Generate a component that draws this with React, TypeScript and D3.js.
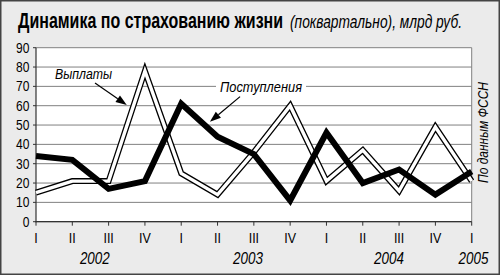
import React, { useLayoutEffect, useRef, useState } from "react";
import * as d3 from "d3";

const quarters = ["I", "II", "III", "IV", "I", "II", "III", "IV", "I", "II", "III", "IV", "I"];
const years = ["2002", "2003", "2004", "2005"];
const yearPos = [1.62, 5.84, 9.72, 12.05];
const payouts = [15, 21, 21, 78, 25, 14, 36, 60, 21, 37, 16, 49, 21];
const receipts = [34, 32, 17, 21, 61, 44, 35, 11, 46, 20, 27, 14, 26];
const yTicks = [0, 10, 20, 30, 40, 50, 60, 70, 80, 90];

const W = 500;
const H = 275;
const FONT = "'Liberation Sans', Arial, sans-serif";

type NProps = {
  x: number;
  y: number;
  size: number;
  sx?: number;
  width?: number;
  rotate?: number;
  anchor?: "start" | "middle" | "end";
  italic?: boolean;
  bold?: boolean;
  children: React.ReactNode;
};

function NText({ x, y, size, sx = 0.86, width, rotate = 0, anchor = "start", italic, bold, children }: NProps) {
  const ref = useRef<SVGTextElement>(null);
  const [scale, setScale] = useState(sx);
  useLayoutEffect(() => {
    if (width && ref.current) {
      const len = ref.current.getComputedTextLength();
      if (len > 0) setScale(width / len);
    }
  }, [width]);
  return (
    <text
      ref={ref}
      transform={`translate(${x},${y}) rotate(${rotate}) scale(${scale},1)`}
      fontSize={size}
      textAnchor={anchor}
      fontStyle={italic ? "italic" : "normal"}
      fontWeight={bold ? "bold" : "normal"}
      fill="#000"
    >
      {children}
    </text>
  );
}

export default function App() {
  const x = d3.scaleLinear().domain([0, 12]).range([36, 471.7]);
  const y = d3.scaleLinear().domain([0, 90]).range([221.7, 47.7]);
  const line = d3
    .line<number>()
    .x((_, i) => x(i))
    .y((d) => y(d))
    .curve(d3.curveLinear);

  const arrow = (x1: number, y1: number, x2: number, y2: number) => {
    const ang = Math.atan2(y2 - y1, x2 - x1);
    const len = 11;
    const hw = 4;
    const bx = x2 - len * Math.cos(ang);
    const by = y2 - len * Math.sin(ang);
    const px = -Math.sin(ang) * hw;
    const py = Math.cos(ang) * hw;
    return (
      <g>
        <line x1={x1} y1={y1} x2={bx} y2={by} stroke="#000" strokeWidth={1.2} />
        <path d={`M${x2},${y2}L${bx + px},${by + py}L${bx - px},${by - py}Z`} fill="#000" />
      </g>
    );
  };

  return (
    <svg
      width={W}
      height={H}
      style={{ position: "absolute", left: 0, top: 0, display: "block" }}
      fontFamily={FONT}
    >
      <rect x={0.75} y={0.75} width={W - 1.5} height={H - 1.5} fill="#ebebeb" stroke="#444" strokeWidth={1.5} />
      {/* Title */}
      <NText x={18} y={27.5} size={22.5} bold width={265}>
        Динамика по страхованию жизни
      </NText>
      <NText x={290} y={27.5} size={18} italic width={172}>
        (поквартально), млрд руб.
      </NText>

      {/* plot area */}
      <rect x={x(0)} y={y(90)} width={x(12) - x(0)} height={y(0) - y(90)} fill="#fff" />
      {yTicks.map((t) => (
        <line key={"g" + t} x1={x(0)} x2={x(12)} y1={y(t)} y2={y(t)} stroke="#808080" strokeWidth={1} />
      ))}
      <line x1={x(12)} x2={x(12)} y1={y(90)} y2={y(0)} stroke="#808080" strokeWidth={1} />
      <line x1={x(0)} x2={x(0)} y1={y(90)} y2={y(0) + 0.5} stroke="#333" strokeWidth={1.2} />
      <line x1={x(0) - 0.5} x2={x(12)} y1={y(0)} y2={y(0)} stroke="#333" strokeWidth={1.2} />
      {yTicks.map((t) => (
        <line key={"yt" + t} x1={x(0) - 3} x2={x(0)} y1={y(t)} y2={y(t)} stroke="#333" strokeWidth={1} />
      ))}
      {quarters.map((q, i) => (
        <line key={"xt" + i} x1={x(i)} x2={x(i)} y1={y(0)} y2={y(0) + 4} stroke="#333" strokeWidth={1} />
      ))}

      {/* y labels */}
      {yTicks.map((t) => (
        <NText key={"yl" + t} x={29.5} y={y(t) + 5} size={14} anchor="end">
          {t}
        </NText>
      ))}
      {/* x labels */}
      {quarters.map((q, i) => (
        <NText key={"xl" + i} x={x(i)} y={242.5} size={14.5} anchor="middle">
          {q}
        </NText>
      ))}
      {years.map((yr, i) => (
        <NText key={"yr" + i} x={x(yearPos[i])} y={264} size={16} sx={0.84} italic anchor="middle">
          {yr}
        </NText>
      ))}

      {/* Payouts: double line */}
      <path d={line(payouts) || ""} fill="none" stroke="#000" strokeWidth={6} strokeLinejoin="miter" strokeMiterlimit={10} />
      <path d={line(payouts) || ""} fill="none" stroke="#fff" strokeWidth={3.4} strokeLinejoin="miter" strokeMiterlimit={10} />
      {/* Receipts: thick line */}
      <path d={line(receipts) || ""} fill="none" stroke="#000" strokeWidth={6} strokeLinejoin="miter" strokeMiterlimit={10} />

      {/* annotations */}
      <rect x={x(0.5)} y={y(80) + 1} width={62} height={14} fill="#fff" />
      <NText x={55} y={y(70) - 7.5} size={14} italic width={57}>
        Выплаты
      </NText>
      {arrow(x(1.625), y(71.7), x(2.5), y(60.4))}

      <rect x={216} y={y(70) - 6} width={90} height={13} fill="#fff" />
      <NText x={220} y={y(70) + 5.5} size={14} italic width={82}>
        Поступления
      </NText>
      {arrow(x(5.62), y(64.7), x(4.79), y(51.7))}

      {/* source */}
      <NText x={488} y={132.5} size={14} italic rotate={-90} anchor="middle" width={101}>
        По данным ФССН
      </NText>
    </svg>
  );
}
